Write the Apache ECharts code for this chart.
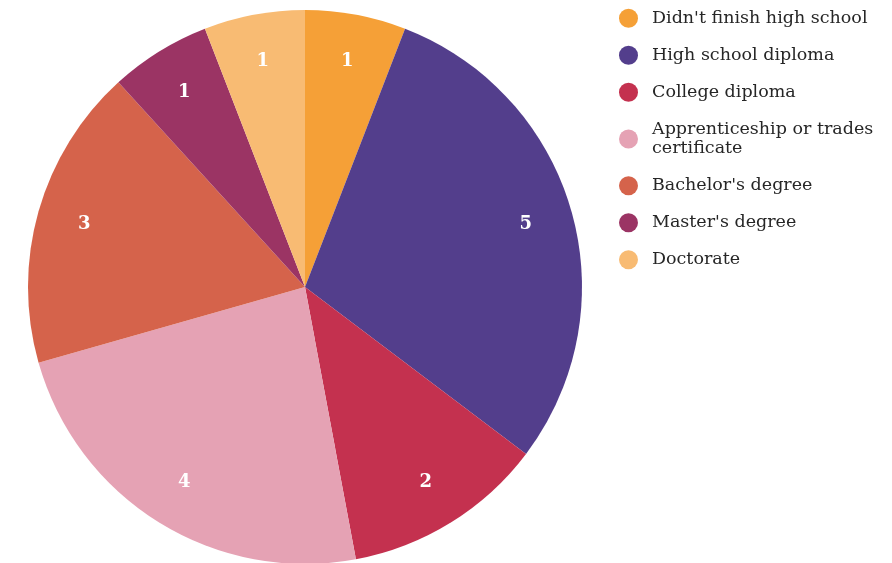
<!DOCTYPE html>
<html><head><meta charset="utf-8">
<script src="https://cdn.jsdelivr.net/npm/echarts@6/dist/echarts.min.js"></script>
<style>html,body{margin:0;padding:0;background:#fff}#c{width:892px;height:563px}</style>
</head><body><div id="c"></div>
<script>
const categories = ["Didn't finish high school","High school diploma","College diploma","Apprenticeship or trades\ncertificate","Bachelor's degree","Master's degree","Doctorate"];
const values = [1,5,2,4,3,1,1];
const colors = ['#F5A037','#533E8C','#C4314F','#E5A2B4','#D5634B','#9B3464','#F8BB73'];
const data = categories.map((n,i)=>({name:n,value:values[i],itemStyle:{color:colors[i]}}));
const chart = echarts.init(document.getElementById('c'));
chart.setOption({
  animation:false,
  legend:{orient:'vertical',left:619,top:8.5,padding:0,itemWidth:19,itemHeight:19,itemGap:17.5,icon:'circle',
    textStyle:{fontFamily:'DejaVu Serif',fontSize:17.5,color:'#262626',lineHeight:19.5,padding:[0,0,0,9]},
    data:categories},
  series:[
    {type:'pie',center:[305,287],radius:[0,277],startAngle:90,clockwise:true,label:{show:false},
     labelLine:{show:false},emphasis:{disabled:true},data:data},
    {type:'pie',center:[305,287],radius:[176,277],startAngle:90,clockwise:true,silent:true,
     legendHoverLink:false,
     itemStyle:{color:'rgba(0,0,0,0)'},
     label:{show:true,position:'inside',formatter:'{c}',color:'#fff',fontFamily:'DejaVu Serif',fontWeight:'bold',fontSize:18},
     labelLine:{show:false},emphasis:{disabled:true},
     data:categories.map((n,i)=>({name:n,value:values[i]}))}
  ]
});
</script></body></html>
